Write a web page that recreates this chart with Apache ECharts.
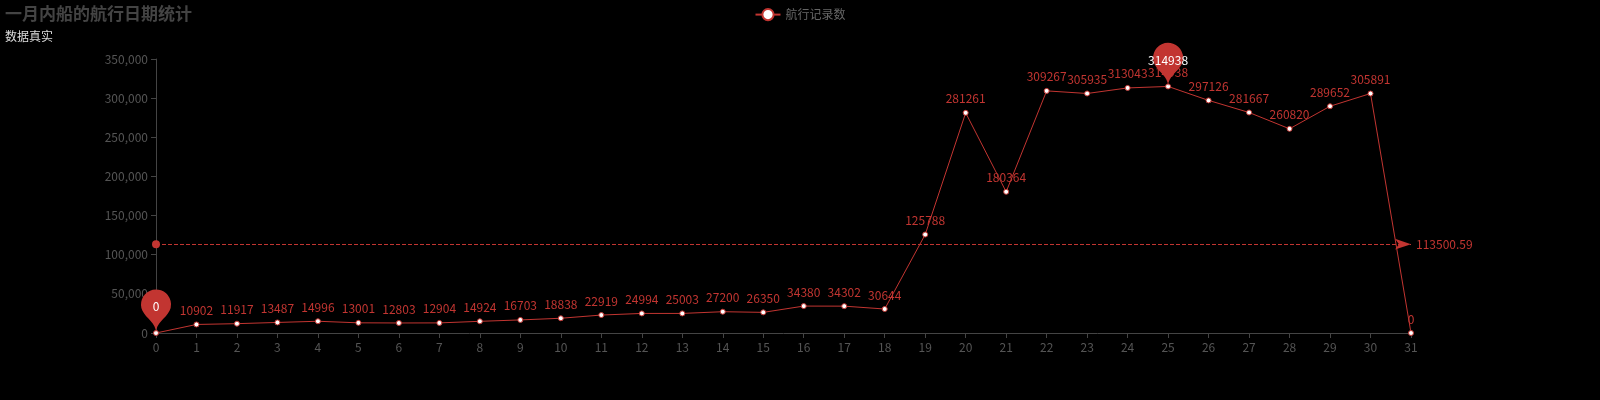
<!DOCTYPE html>
<html>
<head>
<meta charset="utf-8">
<script src="https://cdn.jsdelivr.net/npm/echarts@6/dist/echarts.min.js"></script>
<style>html,body{margin:0;background:#000;}#main{width:1600px;height:400px;}</style>
</head>
<body>
<div id="main"></div>
<script>
var days = ['0','1','2','3','4','5','6','7','8','9','10','11','12','13','14','15','16','17','18','19','20','21','22','23','24','25','26','27','28','29','30','31'];
var counts = [0,10902,11917,13487,14996,13001,12803,12904,14924,16703,18838,22919,24994,25003,27200,26350,34380,34302,30644,125788,281261,180364,309267,305935,313043,314938,297126,281667,260820,289652,305891,0];

var myChart = echarts.init(document.getElementById('main'));
var option = {
  backgroundColor: '#000',
  textStyle: { fontFamily: 'Noto Sans CJK SC' },
  title: {
    text: '一月内船的航行日期统计',
    subtext: '数据真实',
    left: 0, top: 0,
    itemGap: 8,
    textStyle: { color: '#444', fontSize: 17, fontWeight: 'bold' },
    subtextStyle: { color: '#ddd', fontSize: 12 }
  },
  legend: {
    top: 3, left: 'center',
    textStyle: { color: '#666', fontSize: 12 },
    data: ['航行记录数']
  },
  grid: { left: 156, right: 189, top: 59, bottom: 67 },
  xAxis: {
    type: 'category',
    boundaryGap: false,
    data: days,
    axisLine: { lineStyle: { color: '#444' } },
    axisLabel: { color: '#555' }
  },
  yAxis: {
    type: 'value',
    min: 0, max: 350000, interval: 50000,
    axisLine: { show: true, lineStyle: { color: '#444' } },
    axisTick: { show: true },
    splitLine: { show: false },
    axisLabel: { color: '#555', formatter: function (v) { return v.toLocaleString('en-US'); } }
  },
  series: [{
    name: '航行记录数',
    type: 'line',
    data: counts,
    symbol: 'circle',
    symbolSize: 5,
    color: '#c23531',
    itemStyle: { color: '#fff', borderColor: '#c23531', borderWidth: 1 },
    lineStyle: { color: '#c23531', width: 1 },
    label: { show: true, position: 'top', color: '#c23531', fontSize: 12 },
    markPoint: {
      itemStyle: { color: '#c23531' },
      label: { color: '#fff' },
      data: [{ type: 'max', name: '最大值' }, { type: 'min', name: '最小值' }]
    },
    markLine: {
      symbol: ['circle', 'arrow'],
      lineStyle: { color: '#c23531', type: 'dashed' },
      label: { color: '#c23531' },
      data: [{ type: 'average', name: '平均值' }]
    }
  }]
};
myChart.setOption(option);
</script>
</body>
</html>
